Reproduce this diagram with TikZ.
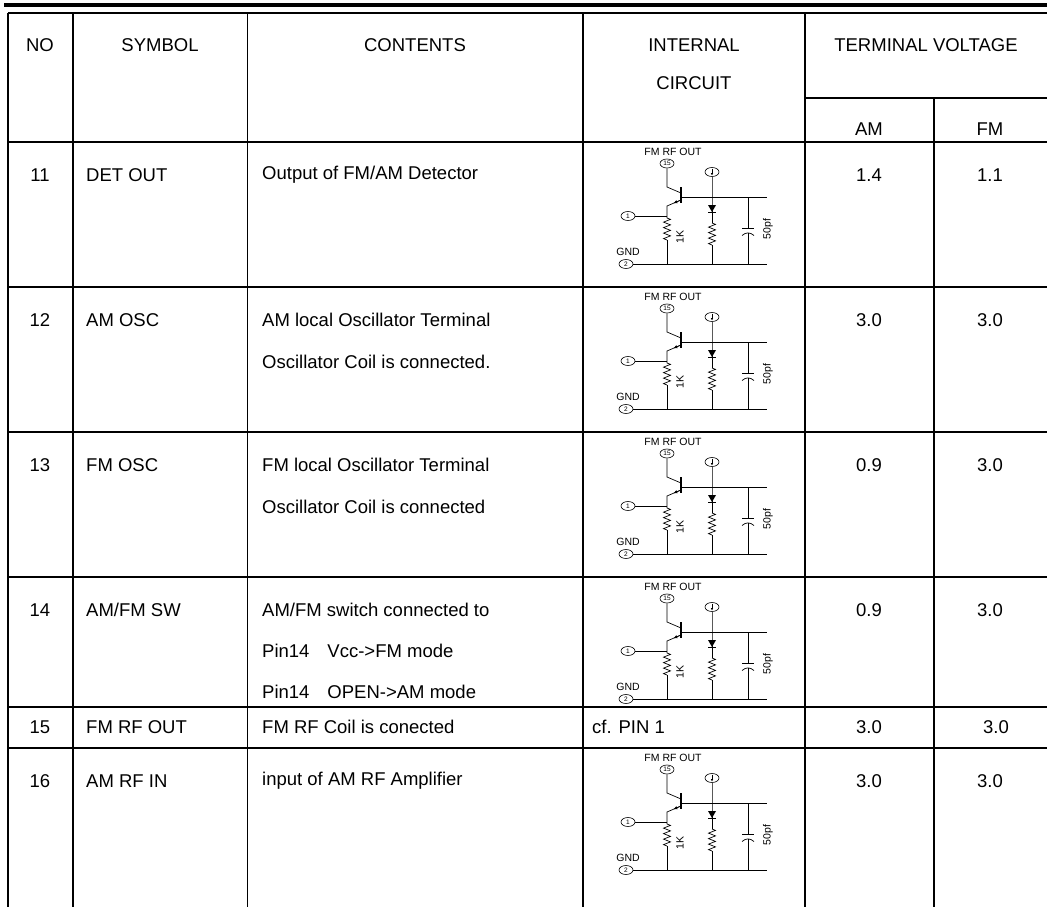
\documentclass[tikz,border=0pt]{standalone}
\usepackage{fontspec}
\setmainfont{Liberation Sans}
\usetikzlibrary{calc,arrows.meta,shapes.geometric,decorations.pathmorphing}

\begin{document}
\begin{tikzpicture}[x=1pt,y=-1pt]
  \tikzset{txt/.style={inner sep=0pt,font=\fontsize{18.5}{20}\selectfont},
    lft/.style={txt,anchor=west},
    rule/.style={line width=1.8pt},
    wire/.style={line width=0.7pt},
    tag/.style={inner sep=0pt,font=\fontsize{10.5}{11}\selectfont},
    pin/.style={draw,ellipse,line width=0.6pt,inner sep=0pt,minimum width=14pt,minimum height=9pt,font=\fontsize{6.5}{6.5}\selectfont},
    res/.style={wire,decorate,decoration={zigzag,segment length=5.5pt,amplitude=3.5pt}}};
  \useasboundingbox (0,0) rectangle (1047,907);
  % frame of the table
  \draw[line width=4pt] (4,5.3) -- (1047,5.3);
  \draw[rule] (8.3,12.7) -- (1047,12.7);
  \draw[rule] (8.3,12.7) -- (8.3,907);
  \draw[rule] (72.7,12.7) -- (72.7,907);
  \draw[rule] (247.5,12.7) -- (247.5,907);
  \draw[rule] (583,12.7) -- (583,907);
  \draw[rule] (805,12.7) -- (805,907);
  \draw[rule] (934,98) -- (934,907);
  \draw[rule] (805,98) -- (1047,98);
  \draw[rule] (8.3,142) -- (1047,142);
  \draw[rule] (8.3,287) -- (1047,287);
  \draw[rule] (8.3,432) -- (1047,432);
  \draw[rule] (8.3,577) -- (1047,577);
  \draw[rule] (8.3,707) -- (1047,707);
  \draw[rule] (8.3,748) -- (1047,748);
  % header
  \node[txt] (hno) at (40,45) {NO};
  \node[txt] (hsym) at (160,45) {SYMBOL};
  \node[txt] (hcon) at (415,45) {CONTENTS};
  \node[txt] (hint) at (694,45) {INTERNAL};
  \node[txt] (hcir) at (694,83) {CIRCUIT};
  \node[txt] (htv) at (926,45) {TERMINAL VOLTAGE};
  \node[txt] (ham) at (869,129) {AM};
  \node[txt] (hfm) at (990,129) {FM};
  % pins
  \node[txt] (n11) at (40,175) {11};
  \node[lft] (s11) at (86,175) {DET OUT};
  \node[lft] (c11) at (262,175) {Output of FM/AM Detector};
  \node[txt] (a11) at (869,175) {1.4};
  \node[txt] (f11) at (990,175) {1.1};
  \node[txt] (n12) at (40,320) {12};
  \node[lft] (s12) at (86,320) {AM OSC};
  \node[lft] (c12) at (262,320) {AM local Oscillator Terminal};
  \node[lft] (d12) at (262,362) {Oscillator Coil is connected.};
  \node[txt] (a12) at (869,320) {3.0};
  \node[txt] (f12) at (990,320) {3.0};
  \node[txt] (n13) at (40,465) {13};
  \node[lft] (s13) at (86,465) {FM OSC};
  \node[lft] (c13) at (262,465) {FM local Oscillator Terminal};
  \node[lft] (d13) at (262,507) {Oscillator Coil is connected};
  \node[txt] (a13) at (869,465) {0.9};
  \node[txt] (f13) at (990,465) {3.0};
  \node[txt] (n14) at (40,610) {14};
  \node[lft] (s14) at (86,610) {AM/FM SW};
  \node[lft] (c14) at (262,610) {AM/FM switch connected to};
  \node[lft] (d14) at (262,651) {Pin14\hspace{18pt}Vcc->FM mode};
  \node[lft] (e14) at (262,692) {Pin14\hspace{18pt}OPEN->AM mode};
  \node[txt] (a14) at (869,610) {0.9};
  \node[txt] (f14) at (990,610) {3.0};
  \node[txt] (n15) at (40,727) {15};
  \node[lft] (s15) at (86,727) {FM RF OUT};
  \node[lft] (c15) at (262,727) {FM RF Coil is conected};
  \node[lft] (i15) at (592,727) {cf. PIN 1};
  \node[txt] (a15) at (869,727) {3.0};
  \node[txt] (f15) at (996,727) {3.0};
  \node[txt] (n16) at (40,781) {16};
  \node[lft] (s16) at (86,781) {AM RF IN};
  \node[lft] (c16) at (262,781) {input of AM RF Amplifier};
  \node[txt] (a16) at (869,781) {3.0};
  \node[txt] (f16) at (990,781) {3.0};
  % internal circuit, one per row
  \foreach \r/\t in {11/142,12/287,13/432,14/577,16/748}{
    \begin{scope}[shift={(0,\t)}]
      \node[tag] (lab\r) at (673,10) {FM RF OUT};
      \node[pin] (p15\r) at (667,21.5) {15};
      \node[pin] (vcc\r) at (712,30) {};
      \node[pin] (p1\r) at (628,74) {1};
      \node[tag] (gnd\r) at (628,110) {GND};
      \node[pin] (p2\r) at (626,122) {2};
      \node[tag,rotate=90] (rk\r) at (680,95) {1K};
      \node[tag,rotate=90] (cp\r) at (768,87) {50pf};
      \coordinate (col\r) at (667,45);
      \coordinate (cj\r) at (681,51);
      \coordinate (bt\r) at (681,45);
      \coordinate (bb\r) at (681,61);
      \coordinate (ej\r) at (681,58);
      \coordinate (em\r) at (667,64);
      \coordinate (e1\r) at (667,74);
      \coordinate (ra\r) at (667,76);
      \coordinate (rb\r) at (667,98);
      \coordinate (g1\r) at (667,122);
      \coordinate (bl\r) at (681,55);
      \coordinate (br\r) at (767,55);
      \coordinate (d0\r) at (712,55);
      \coordinate (dt\r) at (712,63);
      \coordinate (da\r) at (712,81);
      \coordinate (db\r) at (712,103);
      \coordinate (g2\r) at (712,122);
      \coordinate (k0\r) at (748,55);
      \coordinate (ka\r) at (748,86);
      \coordinate (kb\r) at (748,91);
      \coordinate (g3\r) at (748,122);
      \coordinate (ge\r) at (767,122);
      \draw[wire] (p15\r) -- (col\r) -- (cj\r);
      \draw[line width=1.4pt] (bt\r) -- (bb\r);
      \draw[wire] (ej\r) -- (em\r) -- (e1\r) -- (ra\r);
      \draw[wire,-{Latex[length=4pt,width=3.5pt]}] (ej\r) -- ($(ej\r)!0.55!(em\r)$);
      \draw[res] (ra\r) -- (rb\r);
      \draw[wire] (rb\r) -- (g1\r);
      \draw[wire] (p1\r) -- (e1\r);
      \draw[wire] (bl\r) -- (br\r);
      \draw[line width=0.5pt,-{Latex[length=2.5pt,width=2.5pt]}] ([shift={(0,-3.5)}]vcc\r.center) -- ([shift={(0,3.5)}]vcc\r.center);
      \draw[wire] (vcc\r) -- (d0\r) -- (da\r);
      \fill ([shift={(-4,0)}]dt\r) -- ([shift={(4,0)}]dt\r) -- ([shift={(0,7)}]dt\r) -- cycle;
      \draw[line width=1pt] ([shift={(-4,7.5)}]dt\r) -- ([shift={(4,7.5)}]dt\r);
      \draw[res] (da\r) -- (db\r);
      \draw[wire] (db\r) -- (g2\r);
      \draw[wire] (k0\r) -- (ka\r);
      \draw[wire] ([shift={(-6,0)}]ka\r) -- ([shift={(6,0)}]ka\r);
      \draw[wire] ([shift={(-6,2.5)}]kb\r) .. controls ([shift={(-2,-1)}]kb\r) and ([shift={(2,-1)}]kb\r) .. ([shift={(6,2.5)}]kb\r);
      \draw[wire] (kb\r) -- (g3\r);
      \draw[wire] (p2\r) -- (ge\r);
    \end{scope}
  }
\end{tikzpicture}
\end{document}
